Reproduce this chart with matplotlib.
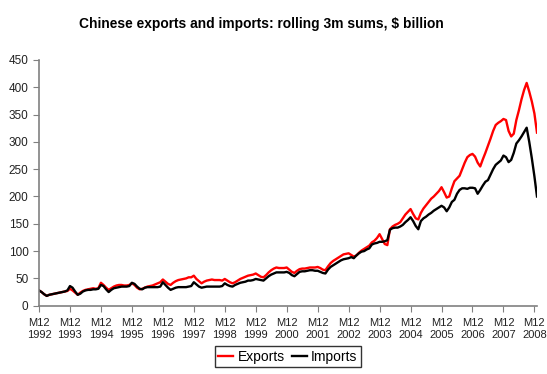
import numpy as np
import matplotlib
matplotlib.use("Agg")
import matplotlib.pyplot as plt

plt.rcParams['font.family'] = ['Liberation Sans', 'DejaVu Sans']

# rolling 3m sums, $ billion, monthly from Dec 1992 to Jan 2009
exports = [28,
    25, 21, 18, 20, 21, 22, 23, 24, 25, 26, 27, 31,          # 1993
    28, 24, 20, 24, 27, 29, 30, 31, 32, 31, 32, 42,          # 1994
    38, 33, 29, 32, 35, 37, 38, 38, 37, 37, 38, 41,          # 1995
    38, 33, 30, 31, 33, 35, 36, 37, 39, 41, 43, 48,          # 1996
    44, 40, 38, 42, 45, 47, 48, 49, 50, 52, 52, 55,          # 1997
    49, 45, 41, 44, 46, 47, 48, 47, 47, 47, 46, 49,          # 1998
    46, 43, 41, 43, 46, 49, 51, 53, 55, 56, 57, 59,          # 1999
    56, 53, 52, 56, 61, 65, 68, 70, 69, 69, 69, 70,          # 2000
    66, 62, 60, 64, 67, 68, 68, 69, 70, 70, 70, 71,          # 2001
    69, 66, 65, 72, 78, 82, 85, 88, 91, 94, 95, 96,          # 2002
    93, 90, 92, 97, 101, 104, 107, 110, 116, 119, 124, 131,  # 2003
    122, 113, 111, 140, 145, 148, 150, 153, 160, 167, 172, 177,  # 2004
    168, 160, 158, 170, 178, 184, 190, 196, 200, 205, 210, 217,  # 2005
    208, 198, 200, 215, 228, 233, 238, 250, 262, 272, 276, 278,  # 2006
    273, 262, 255, 268, 280, 293, 306, 320, 331, 335, 338, 342,  # 2007
    340, 320, 310, 315, 340, 358, 378, 395, 408, 392, 374, 352,  # 2008
    317]
imports = [28,
    25, 21, 18, 20, 21, 22, 23, 24, 25, 26, 28, 36,
    33, 26, 20, 22, 26, 28, 29, 29, 30, 30, 31, 38,
    36, 30, 25, 29, 32, 33, 34, 35, 35, 35, 36, 42,
    40, 35, 31, 30, 33, 34, 34, 34, 34, 34, 35, 43,
    38, 33, 29, 31, 33, 34, 34, 34, 34, 35, 36, 43,
    39, 35, 33, 34, 35, 35, 35, 35, 35, 35, 36, 41,
    38, 36, 35, 38, 40, 42, 43, 44, 46, 46, 47, 49,
    48, 47, 46, 50, 54, 57, 59, 61, 61, 61, 61, 62,
    60, 56, 54, 58, 62, 63, 63, 64, 65, 65, 64, 64,
    62, 60, 59, 66, 71, 74, 77, 80, 83, 85, 86, 87,
    89, 87, 92, 96, 99, 100, 103, 105, 112, 114, 115, 117,
    117, 118, 120, 139, 142, 143, 143, 145, 148, 153, 157, 162,
    155, 146, 140, 155, 160, 163, 167, 170, 174, 177, 180, 183,
    180, 173, 180, 190, 194, 205, 212, 215, 215, 214, 216, 216,
    215, 205, 212, 220, 227, 230, 240, 250, 258, 262, 266, 275,
    272, 263, 267, 280, 297, 303, 310, 318, 326, 300, 270, 237,
    200]
years = list(range(1992, 2009))
tick_labels = ["M12\n%d" % y for y in years]

fig = plt.figure(figsize=(5.47, 3.74), dpi=100)
ax = fig.add_axes([0.0713, 0.1826, 0.9104, 0.657])

x = np.arange(len(exports))
ax.plot(x, exports, color='#ff0000', lw=1.7, label='Exports')
ax.plot(x, imports, color='#000000', lw=1.7, label='Imports')

ax.set_xlim(0, len(exports) - 1)
ax.set_ylim(0, 450)
ax.set_yticks(range(0, 451, 50))
ax.set_xticks(range(0, 12 * len(years), 12))
ax.set_xticklabels(tick_labels)

for s in ['top', 'right']:
    ax.spines[s].set_visible(False)
for s in ['left', 'bottom']:
    ax.spines[s].set_color('#808080')
    ax.spines[s].set_linewidth(1.2)
ax.tick_params(axis='both', direction='out', length=4, color='#808080',
               labelsize=8.5, labelcolor='#222222')
ax.tick_params(axis='x', pad=5, labelsize=8)

fig.text(0.477, 0.936, "Chinese exports and imports: rolling 3m sums, $ billion",
         ha='center', va='center', fontsize=9.9, fontweight='bold')

leg = fig.legend(loc='center', bbox_to_anchor=(0.526, 0.046), ncol=2,
                 frameon=True, fancybox=False, fontsize=10,
                 handlelength=1.1, handletextpad=0.3, columnspacing=0.5,
                 borderpad=0.25, borderaxespad=0)
leg.get_frame().set_edgecolor('black')
leg.get_frame().set_linewidth(1.0)

fig.savefig('out.png', dpi=100)
